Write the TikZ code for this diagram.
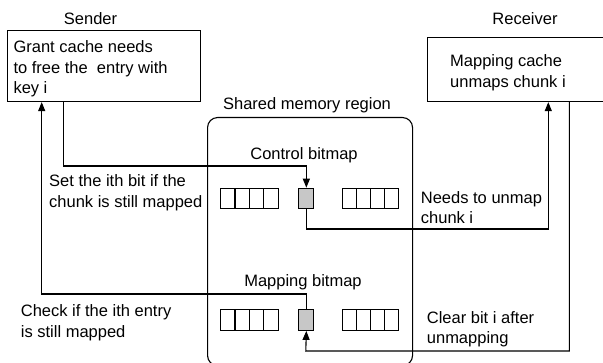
\documentclass[tikz,border=0pt]{standalone}
\usepackage{fontspec}
\setmainfont{Liberation Sans}
\usetikzlibrary{arrows.meta}
\newcommand{\mltext}[1]{\begin{tabular}[t]{@{}l@{}}#1\end{tabular}}
\begin{document}
\begin{tikzpicture}[x=1pt,y=-1pt,
  every node/.style={font=\fontsize{16.5}{20.5}\selectfont},
  lbl/.style={inner sep=0pt, anchor=base west},
  ttl/.style={inner sep=0pt, anchor=base},
  box/.style={draw, line width=1.1pt, inner sep=0pt, anchor=north west},
  cell/.style={draw, line width=1.1pt, minimum width=14.4pt, minimum height=20.6pt, inner sep=0pt, anchor=north west},
  greycell/.style={cell, fill=black!22, minimum width=15pt},
  conn/.style={draw, line width=1.1pt, -{Triangle[length=9pt,width=7pt]}},
]
\useasboundingbox (0,0) rectangle (603,363);

% main boxes
\node[box, minimum width=193.3pt, minimum height=71pt] (sender) at (6.7,30) {};
\node[box, minimum width=176pt, minimum height=64.3pt] (receiver) at (427,36.7) {};
\node[box, rounded corners=10pt, minimum width=205pt, minimum height=248pt] (shm) at (207,117) {};

% titles
\node[ttl] (sendertitle) at (90.5,25) {Sender};
\node[ttl] (rcvtitle) at (525,25) {Receiver};
\node[ttl] (shmtitle) at (307,110) {Shared memory region};
\node[ttl] (ctrltitle) at (304,160) {Control bitmap};
\node[ttl] (maptitle) at (303,287) {Mapping bitmap};

% box texts
\node[lbl] (sendertext) at (13.3,53) {\mltext{Grant cache needs\\to free the~ entry with\\key i}};
\node[lbl] (rcvtext) at (450,66.7) {\mltext{Mapping cache\\unmaps chunk i}};

% bitmap cells
\foreach \i in {0,...,3} {
  \node[cell] (cl\i) at ({220+14.4*\i},187.7) {};
  \node[cell, minimum width=14.15pt] (cr\i) at ({341.7+14.15*\i},187.7) {};
  \node[cell] (ml\i) at ({220+14.4*\i},309.2) {};
  \node[cell, minimum width=14.15pt] (mr\i) at ({341.7+14.15*\i},309.2) {};
}
\node[greycell] (cg) at (298.3,187.7) {};
\node[greycell] (mg) at (298.3,309.2) {};

% connectors
\draw[conn] (63.3,0 |- sender.south) -- (63.3,166) -| (cg.north);
\draw[conn] (cg.south) |- (548.3,229) -- (548.3,0 |- receiver.south);
\draw[conn] (569.3,0 |- receiver.south) |- (305.8,351) -- (mg.south);
\draw[conn] (mg.north) |- (41.7,294) -- (41.7,0 |- sender.south);

% connector labels
\node[lbl] (setlbl) at (49,186.7) {\mltext{Set the ith bit if the\\chunk is still mapped}};
\node[lbl] (checklbl) at (20.7,316.7) {\mltext{Check if the ith entry\\is still mapped}};
\node[lbl] (needlbl) at (420.7,203.3) {\mltext{Needs to unmap\\chunk i}};
\node[lbl] (clearlbl) at (426.7,323.3) {\mltext{Clear bit i after\\unmapping}};
\end{tikzpicture}
\end{document}
